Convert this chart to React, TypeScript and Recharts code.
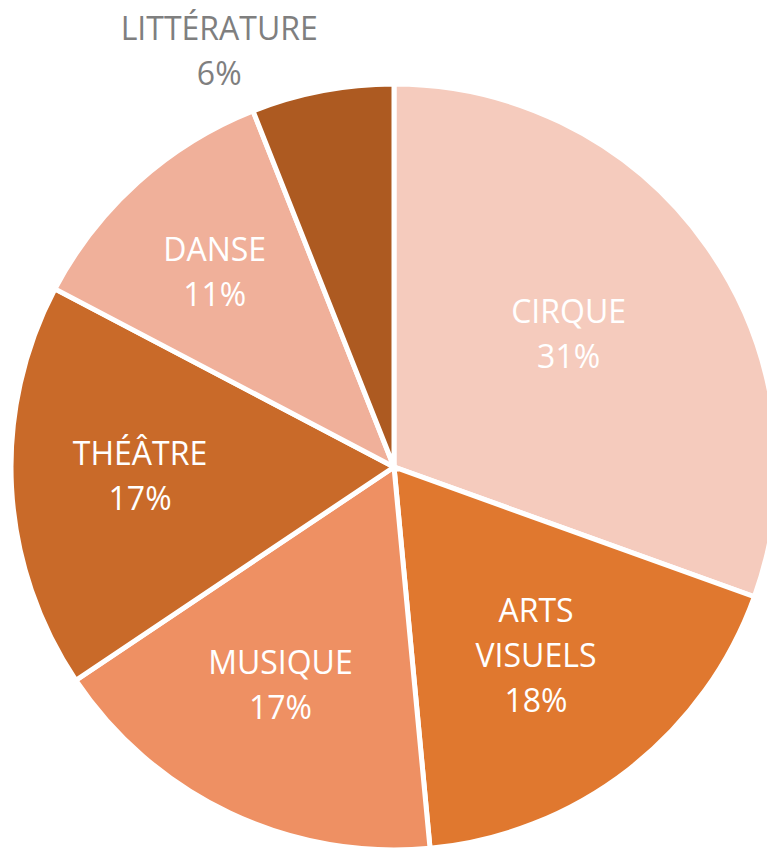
import React from "react";
import { PieChart, Pie, Cell } from "recharts";

const categories = ["CIRQUE", "ARTS VISUELS", "MUSIQUE", "THÉÂTRE", "DANSE", "LITTÉRATURE"];
const shares = [30.5, 18.0, 17.1, 17.1, 11.3, 6.0];
const colors = ["#F5CBBD", "#E0782F", "#EE9063", "#C96A29", "#F0B09A", "#AD5A21"];

const data = categories.map((name, i) => ({ name, value: shares[i] }));

const RAD = Math.PI / 180;
const LINE = 45;
const FONT = "'Open Sans', sans-serif";

const renderLabel = (props: any) => {
  const { cx, cy, midAngle, outerRadius, value, name, index, percent } = props;
  const inside = value >= 8;
  const lines = [...String(name).split(" "), `${Math.round(value)}%`];
  let x: number;
  let y: number;
  if (inside) {
    const r = outerRadius * (0.72 - 0.45 * percent);
    x = cx + r * Math.cos(-midAngle * RAD) - 8;
    y = cy + r * Math.sin(-midAngle * RAD) - 4;
  } else {
    const r = outerRadius + 68;
    const a = midAngle + 12;
    x = cx + r * Math.cos(-a * RAD);
    y = cy + r * Math.sin(-a * RAD);
  }
  const first = -((lines.length - 1) / 2) * LINE + 11;
  return (
    <text
      key={`lbl-${index}`}
      x={x}
      y={y}
      textAnchor="middle"
      fill={inside ? "#FFFFFF" : "#7F7F7F"}
      fontFamily={FONT}
      fontSize={32}
    >
      {lines.map((t, i) => (
        <tspan key={i} x={x} dy={i === 0 ? first : LINE}>
          {t}
        </tspan>
      ))}
    </text>
  );
};

export default function App() {
  return (
    <div style={{ position: "absolute", left: 0, top: 0, width: 767, height: 848, background: "#fff" }}>
      <PieChart width={767} height={848} margin={{ top: 0, right: 0, bottom: 0, left: 0 }}>
        <Pie
          data={data}
          dataKey="value"
          nameKey="name"
          cx={394}
          cy={467}
          outerRadius={383}
          startAngle={90}
          endAngle={-270}
          stroke="#FFFFFF"
          strokeWidth={5}
          label={renderLabel}
          labelLine={false}
          isAnimationActive={false}
        >
          {data.map((d, i) => (
            <Cell key={d.name} fill={colors[i]} />
          ))}
        </Pie>
      </PieChart>
    </div>
  );
}
